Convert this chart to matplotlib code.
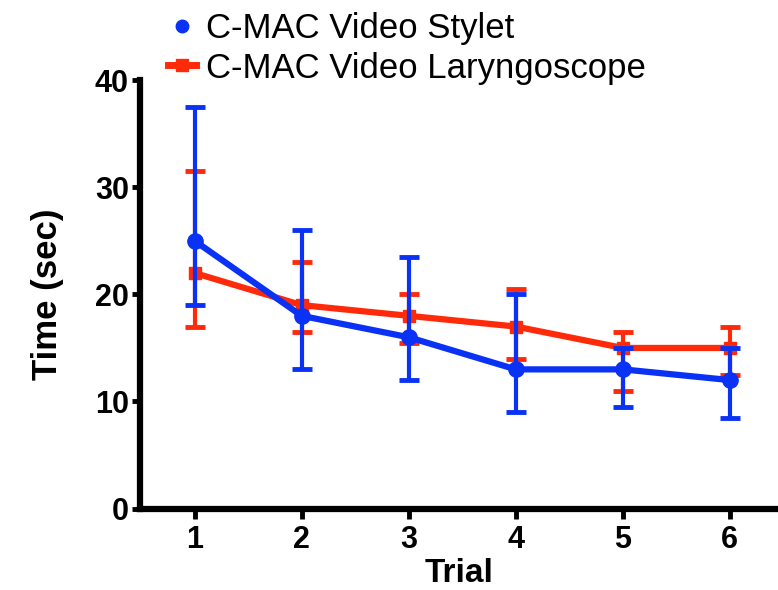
import matplotlib
matplotlib.use("Agg")
from matplotlib import pyplot as plt
from matplotlib.lines import Line2D

plt.rcParams['font.family'] = ['Liberation Sans', 'DejaVu Sans']

trials = [1, 2, 3, 4, 5, 6]

# C-MAC Video Stylet (blue)
stylet_mean = [25, 18, 16, 13, 13, 12]
stylet_upper = [37.5, 26, 23.5, 20, 15, 15]
stylet_lower = [19, 13, 12, 9, 9.5, 8.5]

# C-MAC Video Laryngoscope (red)
laryn_mean = [22, 19, 18, 17, 15, 15]
laryn_upper = [31.5, 23, 20, 20.5, 16.5, 17]
laryn_lower = [17, 16.5, 15.5, 14, 11, 12.5]

blue = '#0a32f5'
red = '#ff2a0a'

fig = plt.figure(figsize=(7.78, 5.9), dpi=100)
ax = fig.add_axes([0.18, 0.138, 0.82, 0.726])

lerr = [[m - lo for m, lo in zip(laryn_mean, laryn_lower)],
        [hi - m for m, hi in zip(laryn_mean, laryn_upper)]]
serr = [[m - lo for m, lo in zip(stylet_mean, stylet_lower)],
        [hi - m for m, hi in zip(stylet_mean, stylet_upper)]]

ax.errorbar(trials, laryn_mean, yerr=lerr, color=red, lw=4.5, marker='s',
            ms=9, elinewidth=3, capsize=7, capthick=3.5, zorder=2)
ax.errorbar(trials, stylet_mean, yerr=serr, color=blue, lw=4.5, marker='o',
            ms=11, elinewidth=3, capsize=7, capthick=3.5, zorder=3)

ax.set_xlim(0.49, 6.45)
ax.set_ylim(0, 40)
ax.set_xticks(trials)
ax.set_yticks([0, 10, 20, 30, 40])

for side in ['top', 'right']:
    ax.spines[side].set_visible(False)
for side in ['left', 'bottom']:
    ax.spines[side].set_linewidth(4.5)

ax.tick_params(axis='y', width=3.5, length=6, pad=2, labelsize=22)
ax.tick_params(axis='x', width=3.5, length=7, pad=5, labelsize=22)
for lab in ax.get_xticklabels() + ax.get_yticklabels():
    lab.set_fontweight('bold')

ax.set_xlabel('Trial', fontsize=24, fontweight='bold', labelpad=2)
ax.set_ylabel('Time (sec)', fontsize=25, fontweight='bold', labelpad=22)

handles = [
    Line2D([], [], color=blue, marker='o', ms=9, lw=0),
    Line2D([], [], color=red, marker='s', ms=9, lw=5),
]
fig.legend(handles, ['C-MAC Video Stylet', 'C-MAC Video Laryngoscope'],
           loc='upper left', bbox_to_anchor=(0.216, 0.979), frameon=False,
           fontsize=25, handlelength=0.8, handletextpad=0.28,
           labelspacing=0.18, borderpad=0, borderaxespad=0)

fig.savefig('out.png', dpi=100)
